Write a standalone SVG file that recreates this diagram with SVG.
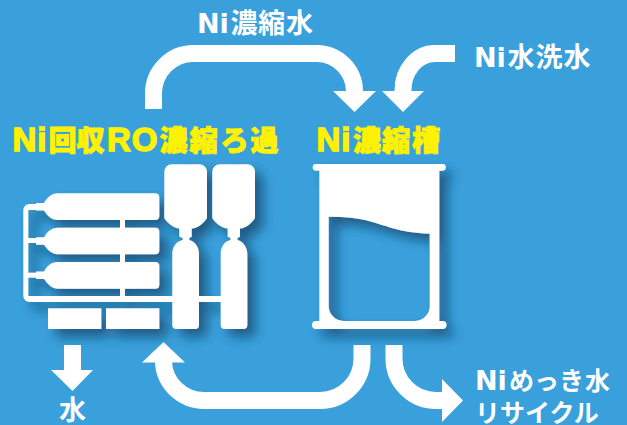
<svg xmlns="http://www.w3.org/2000/svg" width="627" height="425" viewBox="0 0 627 425">
<defs>
<filter id="sh" x="-20%" y="-20%" width="150%" height="150%"><feDropShadow dx="8" dy="8" stdDeviation="6" flood-color="#123f63" flood-opacity="0.7"/></filter>
</defs>
<style>
.w{fill:#fff}
.c{fill:none;stroke:#fff;stroke-width:17}
.t{font-family:"Noto Sans CJK JP","Noto Sans",sans-serif;font-weight:700;font-size:27px;fill:#fff}
.k{font-size:25px}
.l{font-family:"DejaVu Sans",sans-serif;font-weight:700;font-size:27px}
.y{font-family:"Noto Sans CJK JP","Noto Sans",sans-serif;font-weight:900;font-size:28px;fill:#fff200;stroke:#fff200;stroke-width:.9}
.yl{font-family:"Liberation Sans",sans-serif;font-weight:700;font-size:33px;stroke-width:1.4;letter-spacing:1px}
</style>
<rect width="627" height="425" fill="#3aa0dc"/>
<g id="connectors">
<path class="c" d="M153.5 109V94A40 40 0 0 1 193.5 53.5H317A38 38 0 0 1 354.5 91"/>
<path class="w" d="M333 91H376L354.5 112Z"/>
<path class="c" d="M455 53.5H435A32 37 0 0 0 403 91"/>
<path class="w" d="M382 91H424L403 112Z"/>
<path class="c" d="M362 345V358A42 42 0 0 1 320 400.5H204A41 40 0 0 1 163.500 362"/>
<path class="w" d="M142 362.500H185L163.500 342Z"/>
<path class="c" d="M394 345V358A42 42 0 0 0 436 400.500H443"/>
<path class="w" d="M442 379V422L463 400.500Z"/>
<path class="w" d="M64 345H81V370H93L72.500 391L51 370H64Z"/>
</g>
<g id="ro-filter" filter="url(#sh)">
<path class="w" d="M23.300 210a6 6 0 0 1 6-6H37V210H28.300V296H221V302H29.300a6 6 0 0 1 -6-6Z"/>
<rect class="w" x="28" y="238" width="10" height="5"/>
<rect class="w" x="28" y="272.700" width="10" height="5"/>
<rect class="w" x="120" y="218" width="5" height="80"/>
<path id="v1" class="w" d="M58 193.300H155.300a4 4 0 0 1 4 4V216a4 4 0 0 1-4 4H58C51 220 47 215 44 210.500H36V203H44C47 198 51 193.300 58 193.300Z"/>
<path id="v2" class="w" d="M58 227.700H155.300a4 4 0 0 1 4 4V250.300a4 4 0 0 1-4 4H58C51 254.300 47 249 44 244.800H36V237.300H44C47 232 51 227.700 58 227.700Z"/>
<path id="v3" class="w" d="M58 262H155.300a4 4 0 0 1 4 4V284.700a4 4 0 0 1-4 4H58C51 288.700 47 283 44 279H36V271.500H44C47 266 51 262 58 262Z"/>
<path id="u1" class="w" d="M172 164.300H199.500a7.500 7.500 0 0 1 7.500 7.500V218C203 224 198 228 191.700 228.500V236.700L189.300 238V240C195 241.500 199 247 199 254V325a4 4 0 0 1-4 4H176.300a4 4 0 0 1-4-4V254C172.300 247 176 241.500 182.700 240V238L179.300 236.700V228.500C174 228 168 224 164.300 218V171.800a7.500 7.500 0 0 1 7.500-7.500Z"/>
<path id="u2" class="w" d="M220 164.300H247.500a7.500 7.500 0 0 1 7.500 7.500V218C251 224 246 228 240 228.500V236.700L237.500 238V240C243 241.500 247.300 247 247.300 254V325a4 4 0 0 1-4 4H224.700a4 4 0 0 1-4-4V254C220.700 247 224 241.500 230.500 240V238L227.700 236.700V228.500C222 228 216 224 212.300 218V171.800a7.500 7.500 0 0 1 7.500-7.500Z"/>
<rect class="w" x="48" y="308.300" width="53.300" height="20.700"/>
<rect class="w" x="106" y="308.300" width="53.300" height="20.700"/>
</g>
<g id="tank" filter="url(#sh)">
<path class="w" fill-rule="evenodd" d="M316 164H442.500a3.200 3.200 0 0 1 0 6.700H439.300V321H442.500a4 4 0 0 1 0 8H316a4 4 0 0 1 0-8H319.300V170.700H316a3.200 3.200 0 0 1 0-6.700ZM328.700 216.700V306A15 15 0 0 0 343.700 321H414.700A15 15 0 0 0 429.700 306V233.700C400 233 385 225 365 220C352 217 340 216.500 328.700 216.700Z"/>
</g>
<g id="labels">
<text class="t" y="33"><tspan class="l" x="197">Ni</tspan><tspan x="230.500 258 286">濃縮水</tspan></text>
<text class="t" y="67"><tspan class="l" x="474">Ni</tspan><tspan x="507.500 535.500 563.500">水洗水</tspan></text>
<text class="y" y="151"><tspan class="yl" x="12.500">Ni</tspan><tspan x="48.500 76.500">回収</tspan><tspan class="yl" x="107">RO</tspan><tspan x="159.500 189.500 220.500 250.500">濃縮ろ過</tspan></text>
<text class="y" y="151"><tspan class="yl" x="316.500">Ni</tspan><tspan x="353 382 412">濃縮槽</tspan></text>
<text class="t" x="59" y="419.500">水</text>
<text class="t k" y="390"><tspan class="l" x="475">Ni</tspan><tspan x="509 534 559 585">めっき水</tspan></text>
<text class="t k" x="475" y="421.500">リサイクル</text>
</g>
</svg>
